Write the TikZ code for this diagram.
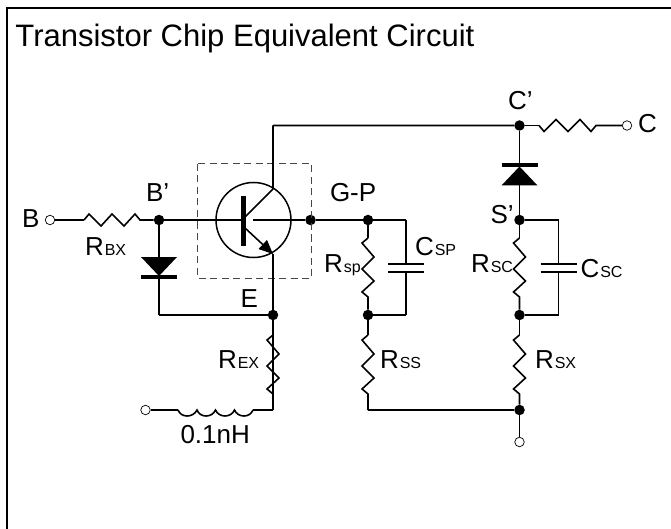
\documentclass[tikz,border=0pt]{standalone}
\usepackage{fontspec}
\setmainfont{Liberation Sans}
\usetikzlibrary{arrows.meta}
\newcommand{\ResDown}[2]{\draw[wire] (#1) -- ++(-6,5) -- ++(12,14) -- ++(-12,12) -- ++(12,12) -- ++(-12,11) -- ++(6,5) -- (#2);}
\newcommand{\ResUp}[2]{\draw[wire] (#1) -- ++(5,-6) -- ++(12,12) -- ++(11,-12) -- ++(12,12) -- ++(11,-12) -- ++(5,6) -- (#2);}
\newcommand{\ResDn}[2]{\draw[wire] (#1) -- ++(5,6) -- ++(12,-12) -- ++(12,12) -- ++(12,-12) -- ++(11,12) -- ++(5,-6) -- (#2);}
\newcommand{\Lbl}[3]{\node[lbl] (#1) at (#2) {#3};}
\newcommand{\Sub}[2]{#1\kern1pt{\fontsize{16}{16}\selectfont #2}}
\tikzset{
  wire/.style={line width=1.6pt,black,line join=miter},
  dot/.style={circle,fill=black,inner sep=0pt,minimum size=10.5pt},
  term/.style={circle,draw=black,fill=white,line width=0.7pt,inner sep=0pt,minimum size=9.5pt},
  pt/.style={inner sep=0pt,outer sep=0pt,minimum size=0pt},
  lbl/.style={inner sep=0pt,outer sep=0pt,anchor=base west,font=\fontsize{26}{26}\selectfont},
  plate/.style={line width=1.6pt,black},
  dbar/.style={line width=3.2pt,black},
  dtri/.style={fill=black,draw=none},
}
\begin{document}
\begin{tikzpicture}[x=1pt,y=-1pt]
\useasboundingbox (0,0) rectangle (671,529);
\fill[white] (0,0) rectangle (671,529);
\draw[line width=2.2pt] (7,529) -- (7,7.8) -- (671,7.8);
\node[lbl,font=\fontsize{31}{31}\selectfont] (title) at (15.5,46.7) {Transistor Chip Equivalent Circuit};
% junctions
\node[term] (B) at (50,220) {};
\node[dot] (Bp) at (159,220) {};
\node[pt] (rbx) at (84,220) {};
\node[circle,draw=black,line width=1.5pt,inner sep=0pt,minimum size=75pt] (Q) at (253.5,220) {};
\node[pt] (barT) at (243,196) {};
\node[pt] (barB) at (243,246) {};
\node[pt] (bar) at (243,220) {};
\node[pt] (qc) at (273,189) {};
\node[pt] (qe) at (273,254) {};
\node[pt] (bc) at (245,217) {};
\node[pt] (be) at (245,228) {};
\node[pt] (coll) at (253,220) {};
\node[dot] (GP0) at (310.5,220) {};
\node[dot] (GP) at (368,220) {};
\node[pt] (corner) at (273,125.5) {};
\node[dot] (Cp) at (519.5,125.5) {};
\node[pt] (rc) at (539,125.5) {};
\node[term] (C) at (627,125.5) {};
\node[dot] (Sp) at (519.5,220) {};
\node[dot] (Sm) at (519.5,315) {};
\node[dot] (Gnd) at (519.5,410) {};
\node[term] (S) at (519.5,442) {};
\node[dot] (Pm) at (368,315) {};
\node[dot] (E) at (273,315) {};
\node[pt] (Dl) at (159,315) {};
\node[pt] (Pb) at (368,410) {};
\node[pt] (Eb) at (273,410) {};
\node[term] (Et) at (145.5,410) {};
\node[pt] (La) at (178,410) {};
\node[pt] (Lb) at (253,410) {};
% dashed box
\draw[draw=black!72,line width=1pt,dash pattern=on 7pt off 4.5pt] (197.5,164) rectangle (311.5,278);
% wires
\draw[wire] (B) -- (rbx);
\ResUp{rbx}{Bp}
\draw[wire] (Bp) -- (bar);
\draw[line width=5pt] (barT) -- (barB);
\draw[wire] (coll) -- (GP0);
\draw[wire] (GP0) -- (GP);
\draw[wire] (bc) -- (qc) -- (corner) -- (Cp);
\draw[wire,-{Triangle[length=14pt,width=12pt]}] (be) -- (qe);
\draw[wire] (qe) -- (E);
\draw[wire] (Cp) -- (rc);
\ResDn{rc}{C}
% B' diode
\node[pt] (d1a) at (159,257) {};
\node[pt] (d1k) at (159,277) {};
\draw[wire] (Bp) -- (d1a);
\draw[dtri] (141,257) -- (177,257) -- (159,276) -- cycle;
\draw[dbar] (141,277) -- (177,277);
\draw[wire] (d1k) -- (Dl) -- (E);
% C' diode
\node[pt] (d2k) at (519.5,165) {};
\node[pt] (d2a) at (519.5,185) {};
\draw[wire] (Cp) -- (d2k);
\draw[dbar] (501.5,165) -- (537.5,165);
\draw[dtri] (501.5,185.5) -- (537.5,185.5) -- (519.5,166.5) -- cycle;
\draw[wire] (d2a) -- (Sp);
% branches
\node[pt] (a1) at (368,238) {};
\ResDown{a1}{Pm}
\draw[wire] (GP) -- (a1);
\node[pt] (a2) at (368,335) {};
\draw[wire] (Pm) -- (a2);
\ResDown{a2}{Pb}
\draw[wire] (Pb) -- (Gnd);
\node[pt] (a3) at (519.5,238) {};
\draw[wire] (Sp) -- (a3);
\ResDown{a3}{Sm}
\node[pt] (a4) at (519.5,335) {};
\draw[wire] (Sm) -- (a4);
\ResDown{a4}{Gnd}
\draw[wire] (Gnd) -- (S);
\node[pt] (a5) at (273,335) {};
\draw[wire] (E) -- (a5);
\ResDown{a5}{Eb}
% capacitors
\node[pt] (c1t) at (406,264) {};
\node[pt] (c1b) at (406,272) {};
\node[pt] (c1r) at (406,220) {};
\node[pt] (c1d) at (406,315) {};
\draw[wire] (GP) -- (c1r) -- (c1t);
\draw[wire] (c1b) -- (c1d) -- (Pm);
\draw[plate] (388,264) -- (424,264);
\draw[plate] (388,272) -- (424,272);
\node[pt] (c2t) at (558.5,264) {};
\node[pt] (c2b) at (558.5,272) {};
\node[pt] (c2r) at (558.5,220) {};
\node[pt] (c2d) at (558.5,315) {};
\draw[wire] (Sp) -- (c2r) -- (c2t);
\draw[wire] (c2b) -- (c2d) -- (Sm);
\draw[plate] (540.5,264) -- (576.5,264);
\draw[plate] (540.5,272) -- (576.5,272);
% inductor
\draw[wire] (Et) -- (La);
\draw[wire] (La) .. controls (181,418) and (193,418) .. (197,410)
  .. controls (200,418) and (212,418) .. (215.5,410)
  .. controls (219,418) and (231,418) .. (234.5,410)
  .. controls (238,418) and (250,418) .. (253,410);
\draw[wire] (Lb) -- (Eb) -- (a5);
% labels
\Lbl{tB}{22,227}{B}
\Lbl{tBp}{146,202}{B’}
\Lbl{tRbx}{85,255}{\Sub{R}{BX}}
\Lbl{tE}{240.5,307}{E}
\Lbl{tGP}{330,202}{G-P}
\Lbl{tCp}{508,110}{C’}
\Lbl{tC}{638,133}{C}
\Lbl{tS}{490.5,224}{S’}
\Lbl{tRsp}{324,272}{\Sub{R}{sp}}
\Lbl{tCsp}{415,255}{\Sub{C}{SP}}
\Lbl{tRsc}{471,272}{\Sub{R}{SC}}
\Lbl{tCsc}{580.5,277}{\Sub{C}{SC}}
\Lbl{tRex}{218,368}{\Sub{R}{EX}}
\Lbl{tRss}{380,368}{\Sub{R}{SS}}
\Lbl{tRsx}{535,368}{\Sub{R}{SX}}
\Lbl{tL}{180.5,443}{0.1nH}
\end{tikzpicture}
\end{document}
